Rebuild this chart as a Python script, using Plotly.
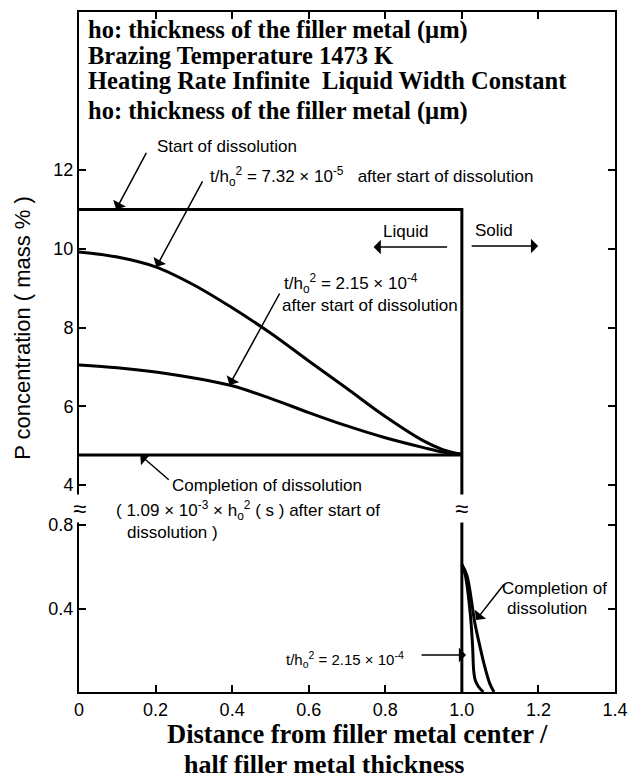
import plotly.graph_objects as go

# ---------------- data ----------------
# upper (liquid) part, P concentration in mass %
start_x = [0.0, 1.0, 1.0]
start_y = [11.0, 11.0, 0.0]          # start of dissolution (step at the interface)

c1_x = [0.0, 0.1, 0.2, 0.3, 0.4, 0.5, 0.6, 0.7, 0.8, 0.9, 0.95, 1.0]
c1_y = [9.92, 9.79, 9.54, 9.08, 8.5, 7.86, 7.15, 6.45, 5.74, 5.12, 4.9, 4.78]   # t/h0^2 = 7.32e-5

c2_x = [0.0, 0.1, 0.2, 0.3, 0.4, 0.5, 0.6, 0.7, 0.8, 0.9, 0.95, 1.0]
c2_y = [7.05, 6.98, 6.87, 6.72, 6.52, 6.2, 5.84, 5.5, 5.2, 4.95, 4.84, 4.78]    # t/h0^2 = 2.15e-4

comp_x = [0.0, 1.0]
comp_y = [4.76, 4.76]                # completion of dissolution

# lower (solid) part
iface_x = [1.0, 1.0]
iface_y = [0.0, 1.0]
s1_x = [1.0, 1.009, 1.022, 1.028, 1.031, 1.035, 1.044, 1.056]
s1_y = [0.61, 0.56, 0.375, 0.22, 0.10, 0.056, 0.024, 0.0]      # t/h0^2 = 2.15e-4
s2_x = [1.0, 1.013, 1.034, 1.047, 1.060, 1.073, 1.084]
s2_y = [0.61, 0.56, 0.33, 0.22, 0.12, 0.04, 0.0]               # completion of dissolution

x_ticks = [0, 0.2, 0.4, 0.6, 0.8, 1.0, 1.2, 1.4]
x_ticktext = ["0", "0.2", "0.4", "0.6", "0.8", "1.0", "1.2", "1.4"]
yu_ticks = [4, 6, 8, 10, 12]
yl_ticks = [0.4, 0.8]
yl_ticktext = ["0.4", "0.8"]

# ---------------- figure ----------------
W, H = 640, 779
ML, MR, MT, MB = 79, 17, 12, 87
PW, PH = W - ML - MR, H - MT - MB
BREAK_PX = 508                      # page y of the axis break
f = (H - MB - BREAK_PX) / PH        # lower domain fraction

LINE = dict(color="black", width=3)
SANS = "Liberation Sans, Arial, sans-serif"
SERIF = "Liberation Serif, Times New Roman, serif"

fig = go.Figure()
up = dict(xaxis="x2", yaxis="y2", mode="lines", line=LINE, showlegend=False, hoverinfo="skip")
lo = dict(xaxis="x", yaxis="y", mode="lines", line=LINE, showlegend=False, hoverinfo="skip")
fig.add_trace(go.Scatter(x=start_x, y=start_y, **up))
fig.add_trace(go.Scatter(x=c1_x, y=c1_y, line_shape="spline", **up))
fig.add_trace(go.Scatter(x=c2_x, y=c2_y, line_shape="spline", **up))
fig.add_trace(go.Scatter(x=comp_x, y=comp_y, **up))
fig.add_trace(go.Scatter(x=iface_x, y=iface_y, **lo))
fig.add_trace(go.Scatter(x=s1_x, y=s1_y, line_shape="spline", **lo))
fig.add_trace(go.Scatter(x=s2_x, y=s2_y, line_shape="spline", **lo))

yl_top = (H - MB - BREAK_PX) / 208.75
yu_bot = 4 - (BREAK_PX - 485) / 39.375
yu_top = 12 + (170 - MT) / 39.375

axcommon = dict(showgrid=False, zeroline=False, showline=True, linecolor="black", linewidth=2,
                ticks="inside", ticklen=7, tickwidth=1.5, tickcolor="black",
                tickfont=dict(family=SANS, size=18, color="black"))

fig.update_layout(
    width=W, height=H, margin=dict(l=ML, r=MR, t=MT, b=MB),
    paper_bgcolor="white", plot_bgcolor="white",
    xaxis=dict(domain=[0, 1], anchor="y", range=[0, 1.4], tickvals=x_ticks, ticktext=x_ticktext, **axcommon),
    xaxis2=dict(domain=[0, 1], anchor="y2", matches="x", side="top", tickvals=x_ticks, showticklabels=False,
                **{k: v for k, v in axcommon.items() if k != "tickfont"}),
    yaxis=dict(domain=[0, f], anchor="x", range=[0, yl_top], tickvals=yl_ticks, ticktext=yl_ticktext,
               mirror="ticks", **axcommon),
    yaxis2=dict(domain=[f, 1], anchor="x2", range=[yu_bot, yu_top], tickvals=yu_ticks,
                mirror="ticks", **axcommon),
)

def px2paper(px, py):
    return (px - ML) / PW, (H - MB - py) / PH

def text(px, py, s, size=17, family=SANS, xanchor="left", angle=0, bold=False):
    x, y = px2paper(px, py)
    fig.add_annotation(x=x, y=y, xref="paper", yref="paper", text=("<b>%s</b>" % s) if bold else s,
                       showarrow=False, xanchor=xanchor, yanchor="middle", textangle=angle,
                       font=dict(family=family, size=size, color="black"))

def arrow(x, y, ax, ay, xref, yref):
    fig.add_annotation(x=x, y=y, xref=xref, yref=yref, ax=ax, ay=ay, text="", showarrow=True,
                       arrowhead=1, arrowsize=1.6, arrowwidth=1.5, arrowcolor="black")

# header block
hdr = ["ho: thickness of the filler metal (µm)", "Brazing Temperature 1473 K",
       "Heating Rate Infinite  Liquid Width Constant", "ho: thickness of the filler metal (µm)"]
for s, py in zip(hdr, [30, 55, 81, 111]):
    text(86, py, s, size=24.5, family=SERIF, bold=True)

H2 = "t/h<sub>o</sub><sup>2</sup>"
text(156, 147, "Start of dissolution")
text(210, 176, H2 + " = 7.32 × 10<sup>-5</sup>   after start of dissolution")
text(285, 283, H2 + " = 2.15 × 10<sup>-4</sup>")
text(283, 305, "after start of dissolution")
text(410, 232, "Liquid", xanchor="center")
text(500, 231, "Solid", xanchor="center")
text(171, 485, "Completion of dissolution")
text(115, 510, "( 1.09 × 10<sup>-3</sup> × h<sub>o</sub><sup>2</sup> ( s ) after start of")
text(126, 532, "dissolution )")
text(506, 588, "Completion of")
text(511, 608, "dissolution")
text(287, 659, H2 + " = 2.15 × 10<sup>-4</sup>", size=15)

# axis titles
text(166, 734, "Distance from filler metal center /", size=26.5, family=SERIF, bold=True)
text(184, 764, "half filler metal thickness", size=26, family=SERIF, bold=True)
text(21, 328, "P concentration ( mass % )", size=22, xanchor="center", angle=-90)

# arrows
arrow(0.097, 11.0, 31, -58, "x2", "y2")
arrow(0.202, 9.54, 47, -87, "x2", "y2")
arrow(0.393, 6.54, 51, -93, "x2", "y2")
arrow(0.16, 4.76, 30, 26, "x2", "y2")
lx, ly = px2paper(378, 247)
arrow(lx, ly, 75, 0, "paper", "paper")
sx, sy = px2paper(545, 246)
arrow(sx, sy, -68, 0, "paper", "paper")
arrow(1.037, 0.345, 29, -37, "x", "y")
arrow(1.011, 0.177, -46, 0, "x", "y")

# axis break marks
for bx in [0.0, 1.0]:
    fig.add_annotation(x=bx, y=yl_top, xref="x", yref="y", text="≈", showarrow=False,
                       xanchor="center", yanchor="middle", bgcolor="white", borderpad=0,
                       font=dict(family=SANS, size=24, color="black"))

fig.write_html("out.html", config={"displayModeBar": False},
               post_script="document.body.style.margin='0';document.body.style.padding='0';")
